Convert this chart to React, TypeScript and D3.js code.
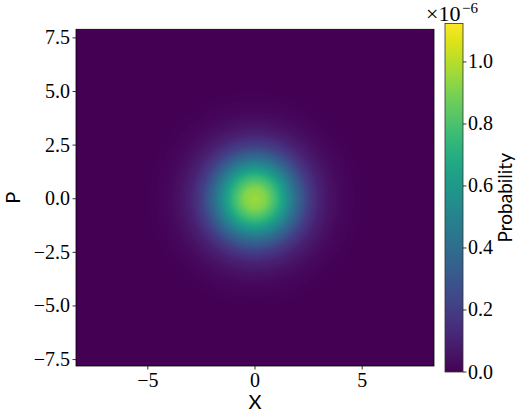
import React, { useMemo } from 'react';
import * as d3 from 'd3';

// tick values
const xTicks = [-5, 0, 5];
const pTicks = [-7.5, -5, -2.5, 0, 2.5, 5, 7.5];
const cbarTicks = [0, 0.2, 0.4, 0.6, 0.8, 1.0];

// extent of the phase-space grid
const xExtent = [-8.35, 8.35];
const pExtent = [-7.8, 7.9];

// radial profile of the distribution (in units of 1e-6)
const profileRadius = [0, 0.5, 1, 1.5, 2, 2.5, 3, 3.5, 4, 4.5, 5, 6, 12];
const profileValue = [0.96, 0.91, 0.76, 0.56, 0.36, 0.2, 0.105, 0.052, 0.024, 0.01, 0.004, 0.0005, 0];
const vMax = 1.124;

const W = 523;
const H = 420;
const plot = { left: 76, right: 434, top: 29.3, bottom: 366 };
const cbar = { left: 445, right: 463, top: 23.5, bottom: 372 };

const serif = '"Liberation Serif", "DejaVu Serif", serif';
const sans = 'Lato, "DejaVu Sans", sans-serif';

const fmtMinus = (s: string) => s.replace('-', '\u2212');

export default function App() {
  const x = d3.scaleLinear().domain(xExtent).range([plot.left, plot.right]);
  const y = d3.scaleLinear().domain(pExtent).range([plot.bottom, plot.top]);
  const c = d3.scaleLinear().domain([0, vMax]).range([cbar.bottom, cbar.top]);
  const profile = d3.scaleLinear().domain(profileRadius).range(profileValue).clamp(true);

  const heatmap = useMemo(() => {
    const w = Math.round(plot.right - plot.left);
    const h = Math.round(plot.bottom - plot.top);
    const canvas = document.createElement('canvas');
    canvas.width = w;
    canvas.height = h;
    const ctx = canvas.getContext('2d');
    if (!ctx) return '';
    const img = ctx.createImageData(w, h);
    for (let j = 0; j < h; j++) {
      const pv = y.invert(plot.top + j + 0.5);
      for (let i = 0; i < w; i++) {
        const xv = x.invert(plot.left + i + 0.5);
        const v = profile(Math.hypot(xv, pv));
        const col = d3.rgb(d3.interpolateViridis(v / vMax));
        const k = (j * w + i) * 4;
        img.data[k] = col.r;
        img.data[k + 1] = col.g;
        img.data[k + 2] = col.b;
        img.data[k + 3] = 255;
      }
    }
    ctx.putImageData(img, 0, 0);
    return canvas.toDataURL();
  }, []);

  const stops = d3.range(0, 1.0001, 0.05);

  return (
    <svg width={W} height={H} style={{ position: 'absolute', left: 0, top: 0, background: '#fff' }}>
      <defs>
        <linearGradient id="viridis" x1="0" y1="1" x2="0" y2="0">
          {stops.map(t => (
            <stop key={t} offset={t} stopColor={d3.interpolateViridis(t)} />
          ))}
        </linearGradient>
      </defs>

      {/* heatmap */}
      <image
        href={heatmap}
        x={plot.left}
        y={plot.top}
        width={plot.right - plot.left}
        height={plot.bottom - plot.top}
        preserveAspectRatio="none"
      />
      <rect
        x={plot.left}
        y={plot.top}
        width={plot.right - plot.left}
        height={plot.bottom - plot.top}
        fill="none"
        stroke="#000"
        strokeWidth={0.8}
      />

      {/* x axis */}
      {xTicks.map(t => (
        <g key={t}>
          <line x1={x(t)} x2={x(t)} y1={plot.bottom} y2={plot.bottom + 3.5} stroke="#000" strokeWidth={0.8} />
          <text x={x(t)} y={plot.bottom + 21} textAnchor="middle" fontFamily={serif} fontSize={20}>
            {fmtMinus(d3.format('d')(t))}
          </text>
        </g>
      ))}
      <text x={(plot.left + plot.right) / 2} y={409} textAnchor="middle" fontFamily={sans} fontSize={20}>X</text>

      {/* y axis */}
      {pTicks.map(t => (
        <g key={t}>
          <line x1={plot.left - 3.5} x2={plot.left} y1={y(t)} y2={y(t)} stroke="#000" strokeWidth={0.8} />
          <text x={plot.left - 6} y={y(t) + 6.5} textAnchor="end" fontFamily={serif} fontSize={20}>
            {fmtMinus(d3.format('.1f')(t))}
          </text>
        </g>
      ))}
      <text
        transform={`translate(20, ${(plot.top + plot.bottom) / 2}) rotate(-90)`}
        textAnchor="middle"
        fontFamily={sans}
        fontSize={20}
      >
        P
      </text>

      {/* colorbar */}
      <rect
        x={cbar.left}
        y={cbar.top}
        width={cbar.right - cbar.left}
        height={cbar.bottom - cbar.top}
        fill="url(#viridis)"
        stroke="#333"
        strokeWidth={0.8}
      />
      {cbarTicks.map(t => (
        <g key={t}>
          <line x1={cbar.right} x2={cbar.right + 3.5} y1={c(t)} y2={c(t)} stroke="#000" strokeWidth={0.8} />
          <text x={cbar.right + 5} y={c(t) + 6.5} fontFamily={serif} fontSize={20}>
            {d3.format('.1f')(t)}
          </text>
        </g>
      ))}
      <text x={426} y={21} fontFamily={serif} style={{ fontSize: '22px' }}>{'\u00d710'}</text>
      <text x={462} y={13} fontFamily={serif} style={{ fontSize: '15px' }}>{'\u22126'}</text>
      <text
        transform={`translate(512, ${(cbar.top + cbar.bottom) / 2}) rotate(-90)`}
        textAnchor="middle"
        fontFamily={sans}
        fontSize={19}
      >
        Probability
      </text>
    </svg>
  );
}
